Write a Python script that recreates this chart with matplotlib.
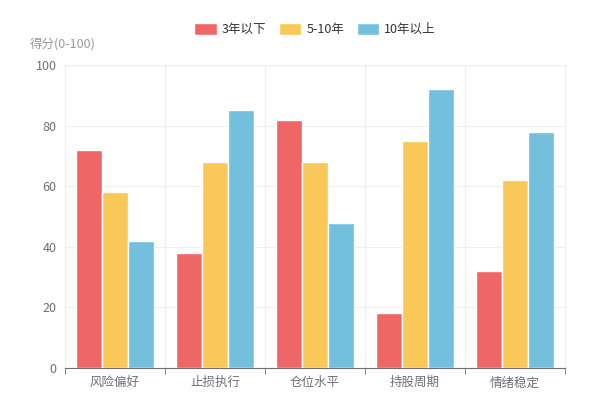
import matplotlib
matplotlib.use("Agg")
import matplotlib.pyplot as plt
import numpy as np
from matplotlib.patches import FancyBboxPatch

plt.rcParams['font.family'] = ['Noto Sans CJK SC', 'DejaVu Sans']

categories = ['风险偏好', '止损执行', '仓位水平', '持股周期', '情绪稳定']
series_names = ['3年以下', '5-10年', '10年以上']
s1 = [72, 38, 82, 18, 32]
s2 = [58, 68, 68, 75, 62]
s3 = [42, 85, 48, 92, 78]
colors = ['#EE6666', '#FAC858', '#73C0DE']

fig = plt.figure(figsize=(6, 4), dpi=100)
ax = fig.add_axes([65/600, 1-368/400, 500/600, 303/400])
x = np.arange(len(categories))
w = 0.26
for i, (vals, c, n) in enumerate(zip([s1, s2, s3], colors, series_names)):
    ax.bar(x + (i-1)*w, vals, width=w, color=c, edgecolor='white', linewidth=1, label=n, zorder=3)

ax.set_xlim(-0.5, 4.5)
ax.set_ylim(0, 100)
ax.set_yticks(range(0, 101, 20))
ax.set_xticks(x)
ax.set_xticklabels(categories)
for v in np.arange(0.5, 4.5, 1):
    ax.axvline(v, color='#eeeeee', lw=0.8, zorder=0)
ax.yaxis.grid(True, color='#eeeeee', lw=0.8, zorder=0)
for s in ['top', 'right']:
    ax.spines[s].set_color('#eeeeee')
ax.spines['left'].set_color('#eeeeee')
ax.spines['bottom'].set_color('#6E7079')
ax.tick_params(axis='both', length=0, labelsize=9, colors='#6E7079', pad=6)
ax.tick_params(axis='x', length=4, color='#6E7079')
ax.set_xticks(np.arange(-0.5, 5, 1), minor=True)
ax.tick_params(axis='x', which='major', length=0)
ax.tick_params(axis='x', which='minor', length=4, color='#6E7079')
fig.text(30/600, 1-44/400, '得分(0-100)', fontsize=9, color='#9a9a9a', va='center')

leg = ax.legend(loc='upper center', bbox_to_anchor=(0.5, 1+ (65-12)/303), ncol=3, frameon=False,
                fontsize=9, handlelength=1.8, handleheight=1.0, columnspacing=1.0, handletextpad=0.4,
                labelcolor='#333333')
fig.savefig('out.png', dpi=100)
